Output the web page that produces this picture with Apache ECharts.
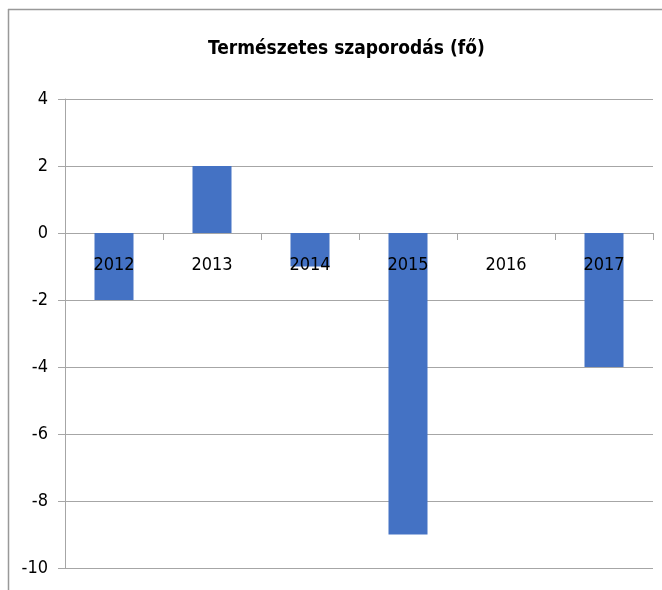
<!DOCTYPE html>
<html>
<head>
<meta charset="utf-8">
<script src="https://cdn.jsdelivr.net/npm/echarts@6/dist/echarts.min.js"></script>
<style>
html,body{margin:0;padding:0;background:#fff;}
#c{width:662px;height:590px;}
</style>
</head>
<body>
<div id="c"></div>
<script>
const titleText = "Természetes szaporodás (fő)";
const categories = ["2012", "2013", "2014", "2015", "2016", "2017"];
const values = [-2, 2, -1, -9, 0, -4];
const labelAnchor = [0, 0, 0, 0, 0, 0];
const yMin = -10, yMax = 4, yStep = 2;

const chart = echarts.init(document.getElementById('c'), null, {renderer: 'canvas'});
const font = '"DejaVu Sans Condensed", sans-serif';
chart.setOption({
  animation: false,
  backgroundColor: '#fff',
  title: {
    text: titleText,
    left: 203,
    top: 35,
    textStyle: {fontFamily: font, fontSize: 19, fontWeight: 'bold', color: '#000'}
  },
  grid: {left: 65, right: 9, top: 99, bottom: 22, containLabel: false, outerBoundsMode: 'none'},
  xAxis: {
    type: 'category',
    data: categories,
    axisLine: {onZero: true, lineStyle: {color: '#a6a6a6', width: 1}},
    axisTick: {show: true, length: 7, lineStyle: {color: '#a6a6a6'}},
    axisLabel: {show: false},
    splitLine: {show: false}
  },
  yAxis: {
    type: 'value',
    min: yMin, max: yMax, interval: yStep,
    axisLine: {show: true, lineStyle: {color: '#a6a6a6', width: 1}},
    axisTick: {show: true, length: 7, lineStyle: {color: '#a6a6a6'}},
    axisLabel: {margin: 17, fontFamily: font, fontSize: 18, color: '#000'},
    splitLine: {show: true, lineStyle: {color: '#a6a6a6', width: 1}}
  },
  series: [{
    type: 'bar',
    data: values,
    barWidth: 39,
    itemStyle: {color: '#4472C4'}
  }, {
    type: 'scatter',
    data: labelAnchor,
    symbolSize: 0,
    z: 5,
    silent: true,
    itemStyle: {opacity: 1},
    label: {
      show: true,
      position: 'bottom',
      distance: 23,
      formatter: '{b}',
      fontFamily: font,
      fontSize: 18,
      color: '#000',
      opacity: 1,
      textBorderWidth: 0
    }
  }],
  graphic: [
    {type: 'line', shape: {x1: 8, y1: 9.5, x2: 662, y2: 9.5}, style: {stroke: '#999', lineWidth: 1.5}},
    {type: 'line', shape: {x1: 8.5, y1: 9, x2: 8.5, y2: 590}, style: {stroke: '#999', lineWidth: 1.5}}
  ]
});
</script>
</body>
</html>
